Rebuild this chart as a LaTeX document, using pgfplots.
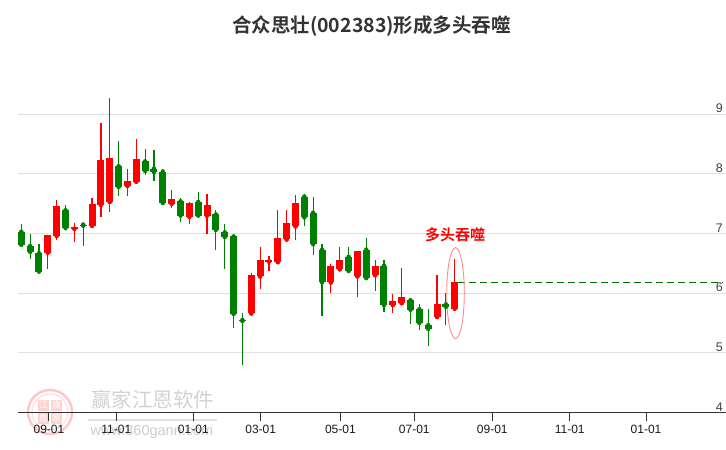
\documentclass[border=0pt]{standalone}
\usepackage{pgfplots}
\pgfplotsset{compat=1.18}
\usepackage{pgfplotstable}
\usetikzlibrary{calc}
\usepackage{fontspec}
\setmainfont{Liberation Sans}
\newfontfamily\cjk{Noto Sans CJK SC}
\newfontfamily\cjkb{Noto Sans CJK SC Bold}
\definecolor{upred}{RGB}{255,0,0}
\definecolor{dngreen}{RGB}{0,128,0}
\definecolor{dashgreen}{RGB}{0,110,0}
\definecolor{titlegray}{RGB}{51,51,51}

% i open high low close
\pgfplotstableread{
i  o    h    l    c
3  6.68 6.97 6.40 6.97
4  6.96 7.56 6.89 7.46
6  7.08 7.18 6.86 7.11
8  7.13 7.59 7.11 7.49
9  7.48 8.85 7.28 8.23
10 7.53 9.28 7.36 8.26
12 7.80 8.09 7.63 7.88
13 7.87 8.58 7.85 8.25
17 7.50 7.73 7.43 7.58
19 7.28 7.53 7.16 7.51
21 7.30 7.66 6.99 7.47
26 5.66 6.34 5.61 6.30
27 6.28 6.77 6.07 6.55
28 6.53 6.63 6.37 6.56
29 6.52 7.40 6.52 6.92
30 6.90 7.39 6.90 7.18
31 7.12 7.64 6.89 7.52
35 6.18 6.48 6.00 6.45
36 6.40 6.78 6.39 6.56
38 6.28 6.70 5.93 6.70
40 6.30 6.56 6.03 6.45
42 5.80 5.99 5.66 5.86
43 5.83 6.42 5.82 5.94
47 5.60 6.30 5.60 5.81
49 5.74 6.57 5.71 6.18
}\uptable

\pgfplotstableread{
i  o    h    l    c
0  7.03 7.16 6.80 6.81
1  6.79 6.99 6.57 6.69
2  6.67 6.82 6.34 6.36
5  7.39 7.47 7.06 7.09
7  7.15 7.16 6.79 7.13
11 8.13 8.55 7.63 7.78
14 8.21 8.41 7.98 8.05
15 8.09 8.40 7.88 8.03
16 8.04 8.09 7.51 7.51
18 7.54 7.59 7.20 7.30
20 7.53 7.69 7.26 7.30
22 7.32 7.39 6.73 7.06
23 7.02 7.16 6.41 6.94
24 6.95 7.00 5.41 5.65
25 5.55 5.67 4.79 5.53
32 7.62 7.67 7.12 7.27
33 7.35 7.62 6.64 6.82
34 6.73 6.83 5.61 6.18
37 6.61 6.78 6.37 6.37
39 6.73 6.93 6.25 6.25
41 6.46 6.55 5.68 5.80
44 5.88 5.89 5.48 5.72
45 5.73 5.81 5.38 5.50
46 5.46 5.73 5.11 5.40
48 5.81 6.01 5.46 5.77
}\dntable

\begin{document}
\begin{tikzpicture}
% watermark
\draw[red!22, line width=2.5pt] (32pt,0.3pt) circle (22pt);
\draw[red!15, line width=1pt] (32pt,0.3pt) circle (18pt);
\foreach \dx/\dy/\ch in {-6.5/6.5/江, 6.5/6.5/赢, -6.5/-6.5/恩, 6.5/-6.5/家}{
  \node[fill=red!18, text=white, inner sep=0pt, minimum size=11.5pt, font=\cjk\fontsize{9}{9}\selectfont] at ($(32pt,0.3pt)+(\dx pt,\dy pt)$) {\ch};
}
\node[text=gray!35, inner sep=0pt, font=\cjk\fontsize{20.5}{20.5}\selectfont] at (134.5pt,12.3pt) {赢家江恩软件};
\draw[gray!22, line width=2.5pt] (70pt,-7.7pt) -- (199pt,-7.7pt);
\node[text=gray!40, inner sep=0pt, font=\fontsize{14.5}{14.5}\selectfont] at (134pt,-19.7pt) {www.360gann.com};

\begin{axis}[
  at={(0,0)}, anchor=south west, scale only axis,
  width=708pt, height=357.6pt,
  xmin=-0.373, xmax=79.67, ymin=4, ymax=10,
  /pgf/number format/assume math mode=true,
  axis line style={draw=none},
  ymajorgrids, grid style={draw=black!12, line width=1pt},
  ytick={4,5,6,7,8,9},
  ytick style={draw=none},
  ytick pos=right, yticklabel pos=right,
  yticklabel style={anchor=south east, inner sep=1pt, xshift=-11pt, text=black!75, font=\fontsize{12.5}{12.5}\selectfont},
  xtick={3.13,10.74,19.45,27.07,36.07,44.43,53.25,62.00,70.63},
  xticklabels={09-01,11-01,01-01,03-01,05-01,07-01,09-01,11-01,01-01},
  xtick pos=bottom, tick align=outside, major tick length=9pt,
  xtick style={draw=black!80, line width=1pt},
  xticklabel style={text=black!90, font=\fontsize{12}{12}\selectfont},
  clip=false,
]
\draw[black!80, line width=1pt] (rel axis cs:0,0) -- (rel axis cs:1,0);
% wicks
\addplot[upred, only marks, mark=none,
  error bars/.cd, y dir=both, y explicit, error mark=none,
  error bar style={line width=1.2pt, draw=upred}]
  table[x=i, y=o, y error plus expr=\thisrow{h}-\thisrow{o}, y error minus expr=\thisrow{o}-\thisrow{l}] {\uptable};
\addplot[dngreen, only marks, mark=none,
  error bars/.cd, y dir=both, y explicit, error mark=none,
  error bar style={line width=1.2pt, draw=dngreen}]
  table[x=i, y=o, y error plus expr=\thisrow{h}-\thisrow{o}, y error minus expr=\thisrow{o}-\thisrow{l}] {\dntable};
% bodies
\addplot[upred, only marks, mark=none,
  error bars/.cd, y dir=plus, y explicit, error mark=none,
  error bar style={line width=7pt, draw=upred}]
  table[x=i, y=o, y error plus expr=\thisrow{c}-\thisrow{o}] {\uptable};
\addplot[dngreen, only marks, mark=none,
  error bars/.cd, y dir=plus, y explicit, error mark=none,
  error bar style={line width=7pt, draw=dngreen}]
  table[x=i, y=c, y error plus expr=\thisrow{o}-\thisrow{c}] {\dntable};
% last close line
\addplot[dashgreen, line width=1pt, dash pattern=on 7pt off 4pt] coordinates {(49.4,6.18) (79.33,6.18)};
\draw[red!45, line width=0.9pt] (axis cs:49.09,6.00) ellipse [x radius=8.8pt, y radius=45.5pt];
\node[text=upred, inner sep=0pt, font=\cjkb\fontsize{15}{15}\selectfont] at (axis cs:49.04,6.975) {多头吞噬};
\end{axis}
\node[text=titlegray, inner sep=0pt, font=\cjkb\fontsize{19.5}{19.5}\selectfont] at (353.5pt,386.3pt) {合众思壮(002383)形成多头吞噬};
\pgfresetboundingbox
\useasboundingbox (-18pt,-37.7pt) rectangle (708pt,412.3pt);
\end{tikzpicture}
\end{document}
